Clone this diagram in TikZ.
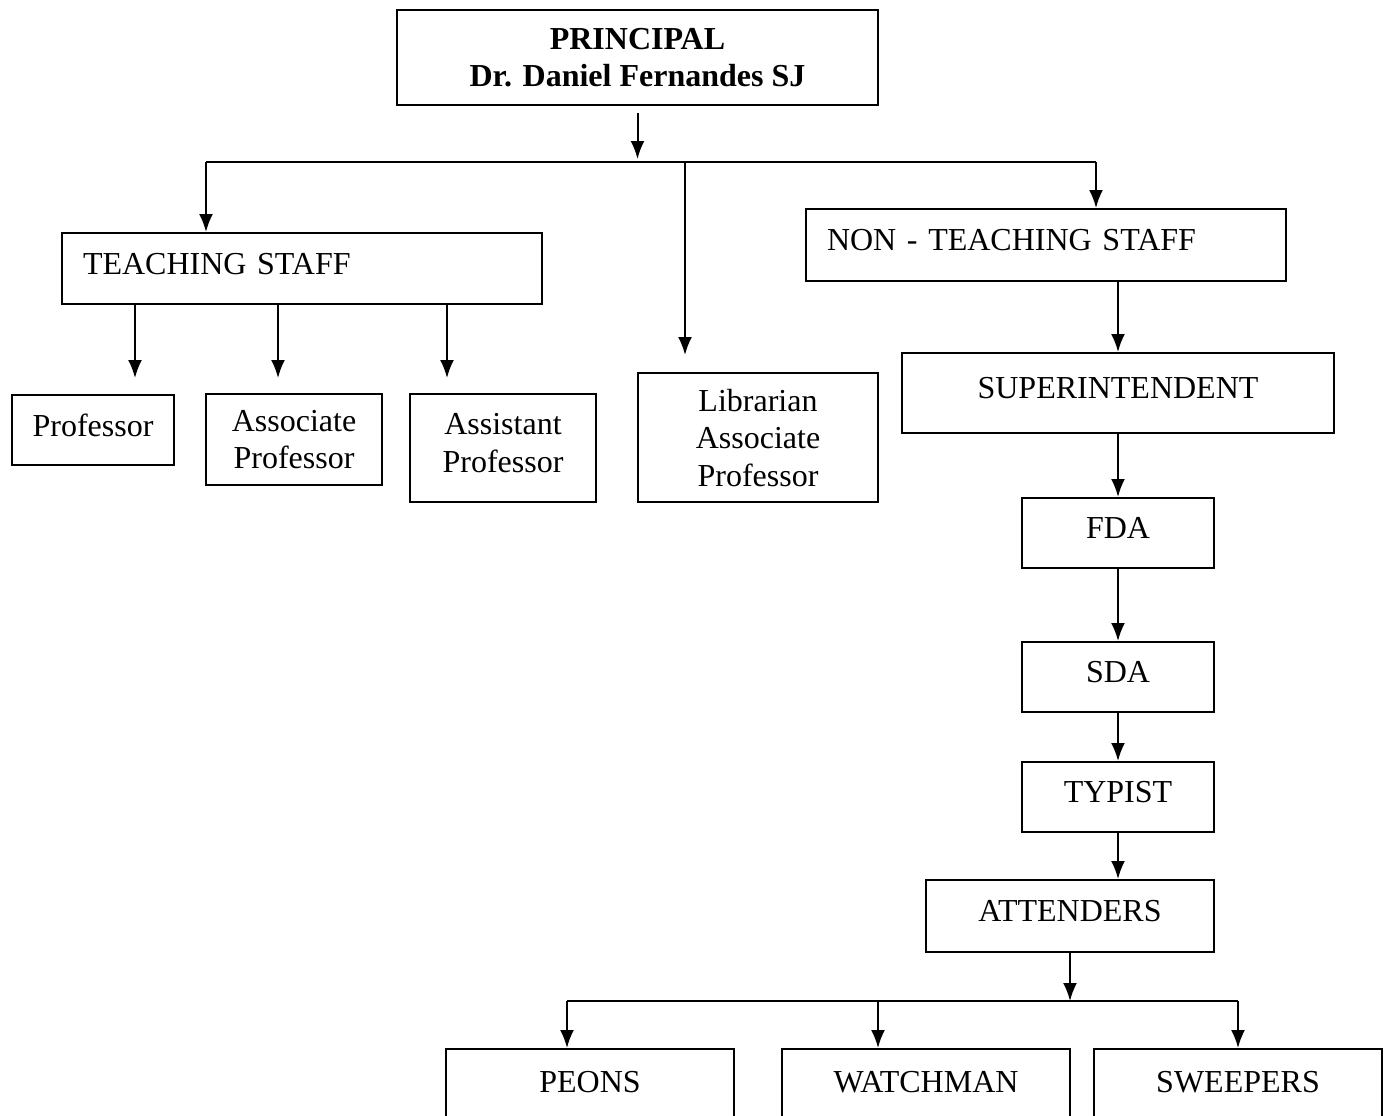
\documentclass[tikz,border=0pt]{standalone}
\usepackage{fontspec}
\setmainfont{Liberation Serif}
\usetikzlibrary{arrows.meta}
\begin{document}
\begin{tikzpicture}[x=1pt, y=-1pt, >={Latex[length=18pt,width=14pt]},
    box/.style={draw, line width=2pt, inner sep=0pt, align=center, text depth=10pt,
        font=\fontsize{32}{37.5}\selectfont},
    link/.style={line width=2pt}]
\useasboundingbox (0,0) rectangle (1389,1116);
% top
\node[box, text depth=0pt, minimum width=481pt, minimum height=95pt] (prin) at (637.5,57.5)
    {\bfseries PRINCIPAL\\\bfseries Dr. Daniel Fernandes SJ};
% teaching side
\node[box, align=left, text width=438pt, minimum width=480pt, minimum height=71pt] (teach) at (302,268.5) {TEACHING STAFF};
\node[box, minimum width=162pt, minimum height=70pt] (prof) at (93,430) {Professor};
\node[box, text depth=0pt, minimum width=176pt, minimum height=91pt] (assoc) at (294,439.5) {Associate\\Professor};
\node[box, minimum width=186pt, minimum height=108pt] (assist) at (503,448) {Assistant\\Professor};
\node[box, text depth=0pt, minimum width=240pt, minimum height=129pt] (lib) at (758,437.5) {Librarian\\Associate\\Professor};
% non teaching side
\node[box, align=left, text width=438pt, minimum width=480pt, minimum height=72pt] (nonteach) at (1046,245) {NON - TEACHING STAFF};
\node[box, minimum width=432pt, minimum height=80pt] (super) at (1118,393) {SUPERINTENDENT};
\node[box, minimum width=192pt, minimum height=70pt] (fda) at (1118,533) {FDA};
\node[box, minimum width=192pt, minimum height=70pt] (sda) at (1118,677) {SDA};
\node[box, minimum width=192pt, minimum height=70pt] (typist) at (1118,797) {TYPIST};
\node[box, minimum width=288pt, minimum height=72pt] (att) at (1070,916) {ATTENDERS};
\node[box, minimum width=288pt, minimum height=76pt] (peons) at (590,1087) {PEONS};
\node[box, minimum width=288pt, minimum height=76pt] (watch) at (926,1087) {WATCHMAN};
\node[box, minimum width=288pt, minimum height=76pt] (sweep) at (1238,1087) {SWEEPERS};

% connectors
\coordinate (jl) at (206,162);
\coordinate (jm) at (685,162);
\coordinate (jr) at (1096,162);
\draw[link, ->, shorten >=3pt] ([yshift=-7pt]prin.south) -- (prin.south |- jl);
\draw[link] (jl) -- (jr);
\draw[link, ->] (jl) -- (jl |- teach.north);
\draw[link, ->] (jm) -- ++(0,193);
\draw[link, ->] (jr) -- (jr |- nonteach.north);
\foreach \x in {135,278,447}
    \draw[link, ->] (teach.south -| \x,0) -- ++(0,73);

\draw[link, ->] (nonteach.south -| super.north) -- (super.north);
\draw[link, ->] (super) -- (fda);
\draw[link, ->] (fda) -- (sda);
\draw[link, ->] (sda) -- (typist);
\draw[link, ->] (typist.south) -- (typist.south |- att.north);

\coordinate (bl) at (567,1001);
\coordinate (bm) at (878,1001);
\coordinate (br) at (1238,1001);
\draw[link, ->] (att.south) -- (att.south |- bl);
\draw[link] (bl) -- (br);
\draw[link, ->] (bl) -- (bl |- peons.north);
\draw[link, ->] (bm) -- (bm |- watch.north);
\draw[link, ->] (br) -- (sweep.north);
\end{tikzpicture}
\end{document}
